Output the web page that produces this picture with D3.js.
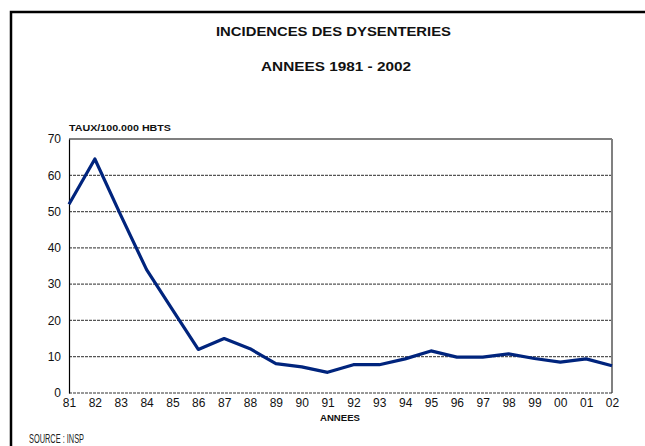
<!DOCTYPE html>
<html>
<head>
<meta charset="utf-8">
<script src="https://cdn.jsdelivr.net/npm/d3@7"></script>
<style>
  body { margin: 0; background: #fff; }
  svg { display: block; }
</style>
</head>
<body>
<div id="chart"></div>
<script>
// data
var years = ["81", "82", "83", "84", "85", "86", "87", "88", "89", "90", "91",
             "92", "93", "94", "95", "96", "97", "98", "99", "00", "01", "02"];
var taux = [52, 64.5, 49, 34, 23, 12, 15, 12.2, 8.1, 7.2, 5.7,
            7.8, 7.8, 9.4, 11.6, 9.9, 9.9, 10.8, 9.5, 8.5, 9.4, 7.5];
var yTicks = [0, 10, 20, 30, 40, 50, 60, 70];

var W = 645, H = 446;
var margin = { top: 139, right: 33, bottom: 53, left: 69 };
var width = W - margin.left - margin.right,
    height = H - margin.top - margin.bottom;
var font = "Liberation Sans, Arial, sans-serif";

var svg = d3.select("#chart").append("svg")
    .attr("width", W)
    .attr("height", H);

// outer frame (runs off the right and bottom edges)
svg.append("path")
    .attr("d", "M11," + (H + 5) + "V12H" + (W + 5))
    .attr("fill", "none")
    .attr("stroke", "#000")
    .attr("stroke-width", 2.5);

function label(txt, xPos, yPos, size, len, anchor) {
    return svg.append("text")
        .attr("x", xPos).attr("y", yPos)
        .attr("text-anchor", anchor || "start")
        .attr("textLength", len)
        .attr("lengthAdjust", "spacingAndGlyphs")
        .style("font-family", font).style("font-weight", "bold").style("font-size", size + "px")
        .attr("fill", "#111")
        .text(txt);
}

label("INCIDENCES DES DYSENTERIES", 216, 36, 12, 235);
label("ANNEES 1981 - 2002", 261, 70.5, 12, 150);

var g = svg.append("g")
    .attr("transform", "translate(" + margin.left + "," + margin.top + ")");

var x = d3.scalePoint().domain(years).range([0, width]);
var y = d3.scaleLinear().domain([0, 70]).range([height, 0]);

// dashed grid
g.append("g")
    .selectAll("line")
    .data(yTicks.filter(function (d) { return d > 0 && d < 70; }))
    .enter().append("line")
    .attr("x1", 0).attr("x2", width)
    .attr("y1", function (d) { return y(d); })
    .attr("y2", function (d) { return y(d); })
    .attr("stroke", "#555")
    .attr("stroke-width", 1.2)
    .attr("stroke-dasharray", "3,1");

// plot frame
g.append("line").attr("x1", 0).attr("x2", width).attr("y1", 0).attr("y2", 0)
    .attr("stroke", "#000").attr("stroke-width", 1.2);
g.append("line").attr("x1", width).attr("x2", width).attr("y1", 0).attr("y2", height)
    .attr("stroke", "#808080").attr("stroke-width", 2);
g.append("line").attr("x1", 0).attr("x2", width).attr("y1", height).attr("y2", height)
    .attr("stroke", "#333").attr("stroke-width", 1.2).attr("stroke-dasharray", "3,1");

// y axis
var yAxis = g.append("g")
    .call(d3.axisLeft(y).tickValues(yTicks).tickSize(0).tickPadding(8));
yAxis.select(".domain").attr("stroke", "#000").attr("stroke-width", 1.2);
yAxis.selectAll("text")
    .style("font-family", font).style("font-size", "12px").attr("fill", "#111");

// x axis
var xAxis = g.append("g")
    .attr("transform", "translate(0," + height + ")")
    .call(d3.axisBottom(x).tickSize(0).tickPadding(5));
xAxis.select(".domain").remove();
xAxis.selectAll("text")
    .style("font-family", font).style("font-size", "12px").attr("fill", "#111");

// series
var line = d3.line()
    .x(function (d, i) { return x(years[i]); })
    .y(function (d) { return y(d); });

g.append("path")
    .datum(taux)
    .attr("d", line)
    .attr("fill", "none")
    .attr("stroke", "#00247d")
    .attr("stroke-width", 3.2)
    .attr("stroke-linejoin", "round");

// axis titles
label("TAUX/100.000 HBTS", 69, 131, 8.5, 102);
label("ANNEES", 320, 421, 8.5, 40);

svg.append("text")
    .attr("x", 29).attr("y", 443)
    .attr("textLength", 55)
    .attr("lengthAdjust", "spacingAndGlyphs")
    .style("font-family", font)
    .style("font-size", "12px")
    .attr("fill", "#222")
    .text("SOURCE : INSP");
</script>
</body>
</html>
